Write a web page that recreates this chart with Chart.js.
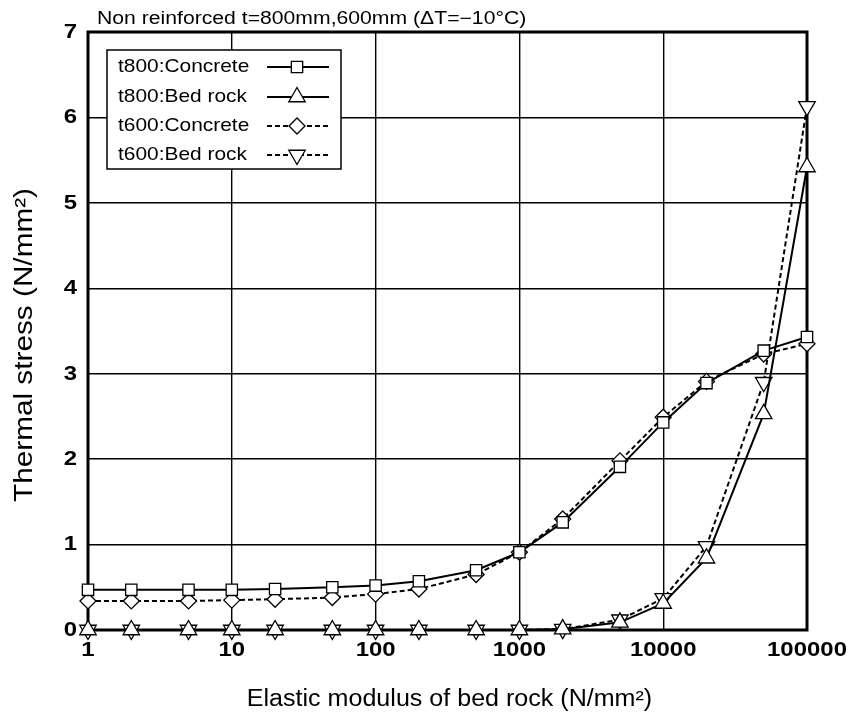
<!DOCTYPE html>
<html>
<head>
<meta charset="utf-8">
<title>Thermal stress vs elastic modulus of bed rock</title>
<script src="https://cdn.jsdelivr.net/npm/chart.js@4.4.1/dist/chart.umd.min.js"></script>
<style>
  body { margin: 0; background: #fff; }
  #wrap { width: 854px; height: 718px; }
</style>
</head>
<body>
<div id="wrap"><canvas id="stressChart"></canvas></div>
<script>
// elastic modulus of bed rock (N/mm2)
const modulus = [1, 2, 5, 10, 20, 50, 100, 200, 500, 1000, 2000, 5000, 10000, 20000, 50000, 100000];
// thermal stress (N/mm2)
const t800Concrete = [0.47, 0.47, 0.47, 0.47, 0.48, 0.50, 0.52, 0.57, 0.70, 0.91, 1.26, 1.91, 2.43, 2.89, 3.27, 3.43];
const t800BedRock  = [0, 0, 0, 0, 0, 0, 0, 0, 0, 0, 0.01, 0.09, 0.31, 0.84, 2.53, 5.42];
const t600Concrete = [0.34, 0.34, 0.34, 0.35, 0.36, 0.38, 0.42, 0.48, 0.65, 0.91, 1.30, 1.98, 2.49, 2.91, 3.23, 3.35];
const t600BedRock  = [0, 0, 0, 0, 0, 0, 0, 0, 0, 0, 0.01, 0.12, 0.37, 0.98, 2.90, 6.13];

const xTicks = [1, 10, 100, 1000, 10000, 100000];
const chartTitle = 'Non reinforced t=800mm,600mm (\u0394T=\u221210\u00b0C)';
const xTitle = 'Elastic modulus of bed rock (N/mm\u00b2)';
const yTitle = 'Thermal stress (N/mm\u00b2)';

const ink = '#000';
const family = "'Liberation Sans', Arial, sans-serif";

function points(values){
    return modulus.map((m, i) => ({ x: m, y: values[i] }));
}

function series(label, values, style, rotation, radius, dashed){
    return {
        label: label,
        data: points(values),
        borderColor: ink,
        borderWidth: 2,
        borderDash: dashed ? [5, 3] : [],
        pointStyle: style,
        pointRotation: rotation,
        pointRadius: radius,
        pointHoverRadius: radius,
        pointBorderWidth: 1.3,
        pointBorderColor: ink,
        pointBackgroundColor: '#fff',
        tension: 0,
        clip: false
    };
}

// text in the original is a bit wide, so glyphs get a horizontal stretch
function wideText(ctx, text, x, y, font, sx, align, angle){
    ctx.save();
    ctx.translate(x, y);
    if (angle) ctx.rotate(angle);
    ctx.scale(sx, 1);
    ctx.font = font;
    ctx.fillStyle = ink;
    ctx.textAlign = align;
    ctx.textBaseline = 'middle';
    ctx.fillText(text, 0, 0);
    ctx.restore();
}

const framePlugin = {
    id: 'frame',
    beforeDatasetsDraw(chart){
        const {ctx, chartArea: a} = chart;
        ctx.save();
        ctx.strokeStyle = ink;
        ctx.lineWidth = 3;
        ctx.strokeRect(a.left, a.top, a.right - a.left, a.bottom - a.top);
        ctx.restore();
    }
};

const labelsPlugin = {
    id: 'labels',
    afterDraw(chart){
        const ctx = chart.ctx;
        const a = chart.chartArea;
        const xs = chart.scales.x, ys = chart.scales.y;
        const tickFont = 'bold 21px ' + family;

        wideText(ctx, chartTitle, 97, 19, '17.5px ' + family, 1.21, 'left');

        xs.ticks.forEach(t => {
            wideText(ctx, String(t.value), xs.getPixelForValue(t.value), 650, tickFont, 1.14, 'center');
        });
        ys.ticks.forEach(t => {
            wideText(ctx, String(t.value), 77, ys.getPixelForValue(t.value), tickFont, 1.14, 'right');
        });

        wideText(ctx, xTitle, (a.left + a.right) / 2 + 2, 700, '23px ' + family, 1.09, 'center');
        wideText(ctx, yTitle, 25, (a.top + a.bottom) / 2 + 14, '25px ' + family, 1.19, 'center', -Math.PI / 2);

        // legend box: label on the left, line sample with marker on the right
        const box = { left: 107, top: 50, right: 341, bottom: 169 };
        ctx.save();
        ctx.fillStyle = '#fff';
        ctx.fillRect(box.left, box.top, box.right - box.left, box.bottom - box.top);
        ctx.strokeStyle = ink;
        ctx.lineWidth = 1.5;
        ctx.strokeRect(box.left, box.top, box.right - box.left, box.bottom - box.top);
        ctx.restore();

        const rows = [67, 97, 126, 155];
        chart.data.datasets.forEach((ds, i) => {
            const y = rows[i];
            wideText(ctx, ds.label, 118, y, '19px ' + family, 1.1, 'left');
            ctx.save();
            ctx.strokeStyle = ink;
            ctx.lineWidth = ds.borderWidth;
            ctx.setLineDash(ds.borderDash);
            ctx.beginPath();
            ctx.moveTo(267, y);
            ctx.lineTo(329, y);
            ctx.stroke();
            ctx.setLineDash([]);
            ctx.fillStyle = '#fff';
            ctx.lineWidth = ds.pointBorderWidth;
            Chart.helpers.drawPoint(ctx, {
                pointStyle: ds.pointStyle,
                rotation: ds.pointRotation,
                radius: ds.pointRadius,
                borderWidth: ds.pointBorderWidth
            }, 297, y);
            ctx.restore();
        });
    }
};

const ctx = document.getElementById('stressChart');
const chart = new Chart(ctx, {
    type: 'line',
    data: {
        datasets: [
            series('t800:Concrete', t800Concrete, 'rect', 0, 8, false),
            series('t800:Bed rock', t800BedRock, 'triangle', 0, 9.5, false),
            series('t600:Concrete', t600Concrete, 'rectRot', 0, 8, true),
            series('t600:Bed rock', t600BedRock, 'triangle', 180, 9.5, true)
        ]
    },
    options: {
        responsive: true,
        maintainAspectRatio: false,
        animation: false,
        events: [],
        layout: { padding: { top: 32, right: 47, left: 0, bottom: 0 } },
        plugins: {
            legend: { display: false },
            tooltip: { enabled: false },
            title: { display: false }
        },
        scales: {
            x: {
                type: 'logarithmic',
                min: 1,
                max: 100000,
                afterBuildTicks(scale){
                    scale.ticks = xTicks.map(v => ({ value: v, major: true }));
                },
                afterFit(scale){ scale.height = 88; },
                ticks: { display: false },
                grid: { color: ink, lineWidth: 1.4, drawTicks: false },
                border: { display: false }
            },
            y: {
                min: 0,
                max: 7,
                afterFit(scale){ scale.width = 88; },
                ticks: { display: false, stepSize: 1 },
                grid: { color: ink, lineWidth: 1.4, drawTicks: false },
                border: { display: false }
            }
        }
    },
    plugins: [framePlugin, labelsPlugin]
});
</script>
</body>
</html>
